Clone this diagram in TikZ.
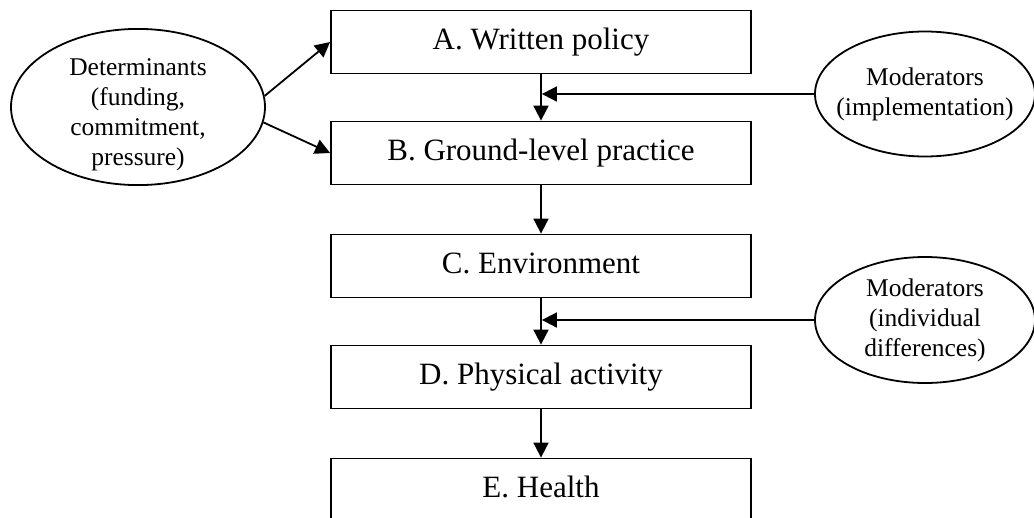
\documentclass[tikz,border=0pt]{standalone}
\usepackage{fontspec}
\setmainfont{Liberation Serif}
\usetikzlibrary{arrows.meta,shapes.geometric}

\begin{document}
\begin{tikzpicture}[x=1pt, y=-1pt, line width=1.8pt,
    stage/.style={rectangle, draw, minimum width=420pt, minimum height=63pt, inner sep=0pt,
        font=\fontsize{31}{36}\selectfont, text height=21pt, text depth=7pt},
    factor/.style={ellipse, draw, inner sep=0pt, align=center, font=\fontsize{25.5}{30}\selectfont},
    arr/.style={-{Triangle[length=15pt, width=15pt]}}]
    \clip (0,0) rectangle (1034,517);
    \node[stage] (A) at (541,42)  {A. Written policy};
    \node[stage] (B) at (541,153) {B. Ground-level practice};
    \node[stage] (C) at (541,266) {C. Environment};
    \node[stage] (D) at (541,377) {D. Physical activity};
    \node[stage] (E) at (541,490) {E. Health};

    \node[factor, minimum width=254pt, minimum height=156pt, inner ysep=-9pt] (det) at (138,107)
        {\rule{0pt}{33pt}Determinants\\(funding,\\commitment,\\pressure)};
    \node[factor, minimum width=220pt, minimum height=125pt, inner xsep=-14pt] (mod1) at (925,94)
        {Moderators\\(implementation)};
    \node[factor, minimum width=220pt, minimum height=126pt, inner xsep=-14pt] (mod2) at (925,320)
        {Moderators\\(individual\\differences)};

    % main chain
    \draw[arr] (A) -- (B);
    \draw[arr] (B) -- (C);
    \draw[arr] (C) -- (D);
    \draw[arr] (D) -- (E);

    \draw[arr] (det.5) -- (A.west);
    \draw[arr] (det.-7) -- (B.west);

    % moderators meet the chain
    \coordinate (m1) at (mod1.west -| A.south);
    \coordinate (m2) at (mod2.west -| C.south);
    \draw[arr, shorten >=0.9pt] (mod1.west) -- (m1);
    \draw[arr, shorten >=0.9pt] (mod2.west) -- (m2);
\end{tikzpicture}
\end{document}
